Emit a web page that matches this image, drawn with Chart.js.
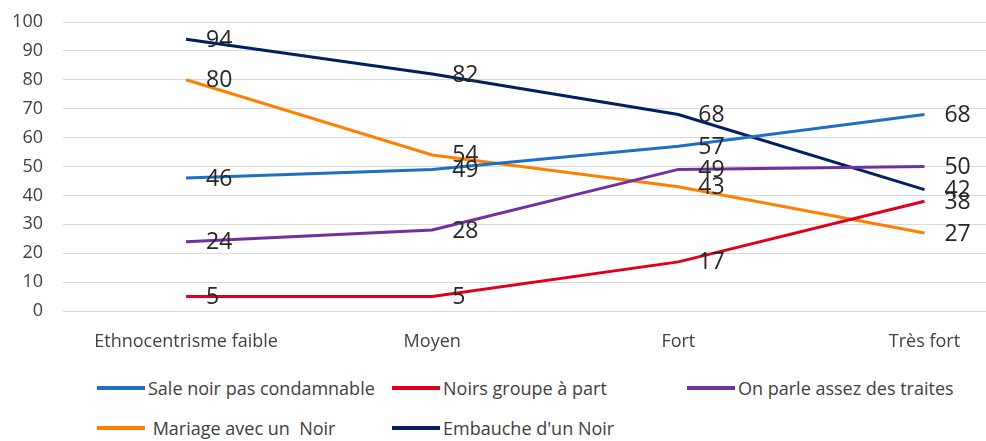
<!DOCTYPE html>
<html lang="fr">
<head>
<meta charset="utf-8">
<title>Ethnocentrisme et attitudes envers les Noirs</title>
<script src="https://cdn.jsdelivr.net/npm/chart.js@4.4.1/dist/chart.umd.min.js"></script>
<style>
  html, body { margin: 0; padding: 0; background: #fff; }
  #wrap { position: relative; width: 986px; height: 441px; overflow: hidden; }
  #chart { position: absolute; left: 0; top: 0; }
  #legend {
    position: absolute; left: 97px; top: 368px;
    display: grid; grid-template-columns: 295px 295px auto; grid-auto-rows: 40px;
    font: 18px "Open Sans", sans-serif; color: #404040;
  }
  .item { display: flex; align-items: center; white-space: pre; }
  .swatch { width: 48px; height: 4px; margin-right: 3px; }
</style>
</head>
<body>
<div id="wrap">
  <canvas id="chart" width="986" height="352"></canvas>
  <div id="legend"></div>
</div>
<script>
const categories = ['Ethnocentrisme faible', 'Moyen', 'Fort', 'Très fort'];
const seriesNames = [
  'Sale noir pas condamnable',
  'Noirs groupe à part',
  'On parle assez des traites',
  ' Mariage avec un  Noir',
  "Embauche d'un Noir"
];
const saleNoir = [46, 49, 57, 68];
const groupeAPart = [5, 5, 17, 38];
const traites = [24, 28, 49, 50];
const mariage = [80, 54, 43, 27];
const embauche = [94, 82, 68, 42];
const seriesColors = ['#1F6FC5', '#E0001B', '#7030A0', '#FF8000', '#002060'];

const seriesValues = [saleNoir, groupeAPart, traites, mariage, embauche];

// value printed to the right of every point
const valueLabels = {
  id: 'valueLabels',
  afterDatasetsDraw(chart) {
    const ctx = chart.ctx;
    ctx.save();
    ctx.font = '23px "Open Sans", sans-serif';
    ctx.fillStyle = '#262626';
    ctx.textAlign = 'left';
    ctx.textBaseline = 'middle';
    chart.data.datasets.forEach((ds, di) => {
      chart.getDatasetMeta(di).data.forEach((pt, i) => {
        ctx.fillText(String(ds.data[i].y), pt.x + 20, pt.y + 1);
      });
    });
    ctx.restore();
  }
};

const chart = new Chart(document.getElementById('chart'), {
  type: 'line',
  data: {
    datasets: seriesNames.map((name, s) => ({
      label: name,
      data: seriesValues[s].map((v, i) => ({ x: i, y: v })),
      borderColor: seriesColors[s],
      backgroundColor: seriesColors[s],
      borderWidth: 3,
      pointRadius: 0,
      tension: 0,
      fill: false
    }))
  },
  options: {
    responsive: false,
    animation: false,
    layout: { padding: { top: 22, left: 0, right: 0, bottom: 0 } },
    plugins: {
      legend: { display: false },
      tooltip: { enabled: false }
    },
    scales: {
      x: {
        type: 'linear',
        min: -0.5,
        max: 3.25,
        afterFit: s => { s.height = 41; },
        grid: { display: false, drawTicks: false },
        border: { display: false },
        afterBuildTicks: s => { s.ticks = categories.map((_, i) => ({ value: i })); },
        ticks: {
          autoSkip: false,
          maxRotation: 0,
          padding: 20,
          color: '#404040',
          font: { family: '"Open Sans", sans-serif', size: 18 },
          callback: v => categories[v] ?? ''
        }
      },
      y: {
        min: 0,
        max: 100,
        // fixed axis width; the tick padding must not push the plot area down
        afterFit: s => { s.width = 63; s.paddingTop = 0; s.paddingBottom = 0; },
        grid: { color: '#d9d9d9', lineWidth: 1, drawTicks: false },
        border: { display: false },
        ticks: {
          stepSize: 10,
          padding: 20,
          color: '#404040',
          font: { family: '"Open Sans", sans-serif', size: 18 }
        }
      }
    }
  },
  plugins: [valueLabels]
});

// legend laid out as a three-column grid under the chart
const legend = document.getElementById('legend');
chart.data.datasets.forEach(ds => {
  const item = document.createElement('div');
  item.className = 'item';
  const sw = document.createElement('span');
  sw.className = 'swatch';
  sw.style.background = ds.borderColor;
  const txt = document.createElement('span');
  txt.textContent = ds.label;
  item.append(sw, txt);
  legend.appendChild(item);
});
</script>
</body>
</html>
